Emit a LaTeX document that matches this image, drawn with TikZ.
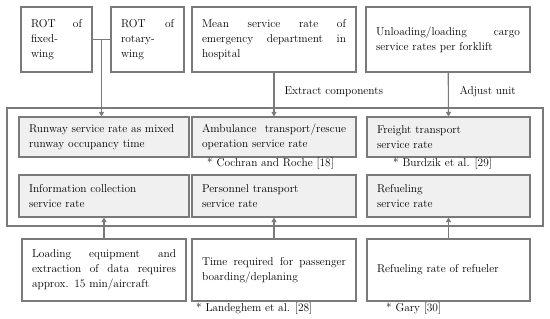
\documentclass[tikz,border=0pt]{standalone}
\usetikzlibrary{arrows.meta}
\definecolor{linegray}{RGB}{122,122,122}
\definecolor{boxfill}{RGB}{240,240,240}
\tikzset{
    srcbox/.style={draw=linegray, line width=1.1pt, inner xsep=10pt, inner ysep=0pt,
        align=left, font=\fontsize{11.4}{15}\selectfont},
    ratebox/.style={srcbox, fill=boxfill},
    cite/.style={anchor=west, inner sep=0pt, font=\fontsize{11.4}{14}\selectfont},
    arr/.style={draw=linegray, line width=1.1pt, -{Triangle[width=5pt,length=4.5pt]}},
}
\begin{document}
\begin{tikzpicture}[x=1pt, y=-1pt]
    \useasboundingbox (0,0) rectangle (550,319);

    % sources on top
    \node[srcbox, text width=51pt, minimum height=65pt] (fixed) at (56.5,39.5)
        {ROT \hfill of\\ fixed-\\ wing};
    \node[srcbox, text width=53pt, minimum height=65pt] (rotary) at (147.5,39.5)
        {ROT \hfill of\\ rotary-\\ wing};
    \node[srcbox, text width=144pt, minimum height=65pt] (mean) at (274,39.5)
        {Mean \hfill service \hfill rate \hfill of\\ emergency \hfill department \hfill in\\ hospital};
    \node[srcbox, text width=144pt, minimum height=65pt] (unload) at (448,39.5)
        {Unloading/loading \hfill cargo\\ service rates per forklift};

    % service rates
    \draw[linegray, line width=1.1pt] (7,108) rectangle (543,226);
    \node[ratebox, text width=150pt, minimum height=40pt] (runway) at (104,137)
        {Runway service rate as mixed\\ runway occupancy time};
    \node[ratebox, text width=144pt, minimum height=40pt] (ambul) at (274,137)
        {Ambulance \hfill transport/rescue\\ operation service rate};
    \node[ratebox, text width=143pt, minimum height=40pt] (freight) at (448.5,137)
        {Freight transport\\ service rate};
    \node[ratebox, text width=150pt, minimum height=42pt] (info) at (104,196)
        {Information collection\\ service rate};
    \node[ratebox, text width=144pt, minimum height=42pt] (person) at (274,196)
        {Personnel transport\\ service rate};
    \node[ratebox, text width=143pt, minimum height=42pt] (refuel) at (448.5,196)
        {Refueling\\ service rate};

    % sources at the bottom
    \node[srcbox, text width=144pt, minimum height=62pt] (loading) at (104,270)
        {Loading \hfill equipment \hfill and\\ extraction \hfill of \hfill data \hfill requires\\ approx. 15 min/aircraft};
    \node[srcbox, text width=144pt, minimum height=62pt] (time) at (274,270)
        {Time \hfill required \hfill for \hfill passenger\\ boarding/deplaning};
    \node[srcbox, text width=143pt, minimum height=62pt] (rate) at (448.5,270)
        {Refueling rate of refueler};

    % references
    \node[cite] (cochran) at (207,164) {* Cochran and Roche [18]};
    \node[cite] (burdzik) at (393,164) {* Burdzik et al. [29]};
    \node[cite] (landeghem) at (196,309) {* Landeghem et al. [28]};
    \node[cite] (gary) at (386,309) {* Gary [30]};

    % connectors
    \draw[linegray, line width=1.1pt] (fixed.east) -- (rotary.west)
        coordinate[pos=0.5] (rot);
    \draw[arr] (rot) -- (rot |- runway.north);
    \draw[arr] (mean) -- (ambul.north);
    \draw[arr] (unload) -- (freight.north);
    \draw[arr] (loading) -- (info.south);
    \draw[arr] (time) -- (person.south);
    \draw[arr] (rate) -- (refuel.south);
    \node[font=\fontsize{11.4}{14}\selectfont, anchor=west] (extract) at (281,92) {Extract components};
    \node[font=\fontsize{11.4}{14}\selectfont, anchor=west] (adjust) at (456,92) {Adjust unit};
\end{tikzpicture}
\end{document}
